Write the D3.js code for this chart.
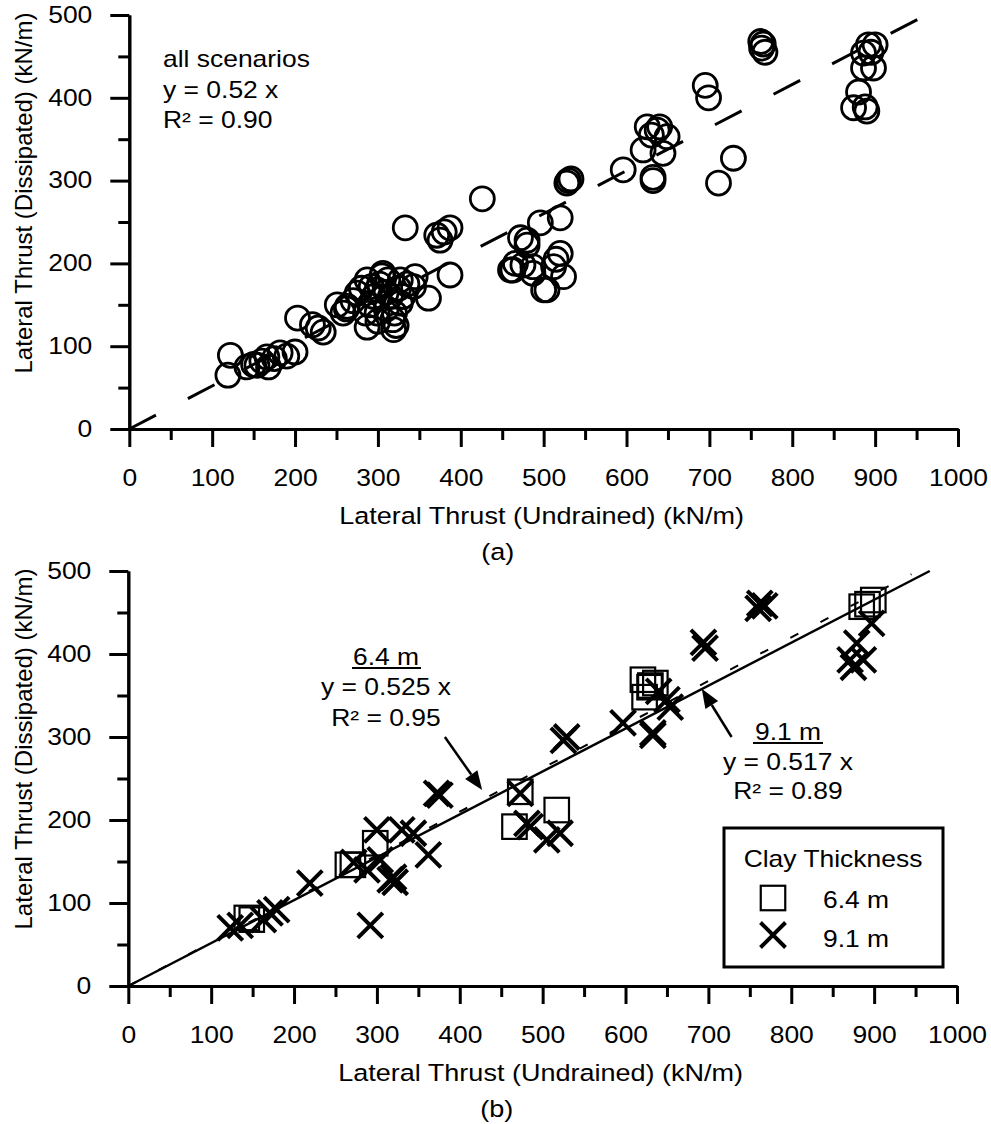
<!DOCTYPE html>
<html><head><meta charset="utf-8">
<script src="https://cdn.jsdelivr.net/npm/d3@7"></script>
<style>body{margin:0;background:#fff} svg{display:block}</style>
</head><body><svg id="c" width="991" height="1124"></svg>
<script>
// ---------- DATA ----------
const allScenarios = [
  [122,89],[119,65],[142,75],[150,78],[154,77],[160,82],[166,87],[168,75],[175,85],[182,92],[200,93],[190,88],
  [203,134],[221,126],[234,117],[228,122],[251,150],[258,140],[262,145],
  [263,148],[275,164],[270,155],[280,170],[287,180],[287,123],[290,150],[295,160],[299,168],[299,140],[302,175],
  [306,188],[310,165],[312,180],[315,160],[318,132],[319,120],[322,125],[325,170],[327,180],[327,152],[330,160],
  [335,175],[343,172],[345,184],[300,130],[310,145],[285,140],[320,140],[305,185],[292,172],
  [361,158],[387,186],[333,243],[371,234],[387,243],[375,228],[380,238],[426,278],
  [472,231],[480,222],[496,249],[463,192],[487,188],[500,168],[466,200],[480,228],[520,255],[504,168],
  [520,212],[524,184],[487,196],[512,196],[460,192],[475,198],[515,205],[528,297],[530,300],[533,302],
  [596,313],[625,365],[637,361],[649,353],[620,337],[644,333],[632,304],[632,300],[640,365],[630,355],
  [695,415],[699,400],[729,327],[711,297],
  [763,460],[765,465],[767,455],[762,468],
  [892,464],[900,464],[886,454],[898,436],[886,436],[880,407],[874,388],[888,389],[890,384],[895,455]
];
const clay64 = [
  [143,82],[149,80],[265,146],[271,146],[298,172],[473,234],[466,192],[517,212],
  [621,369],[629,360],[636,365],[623,348],[630,362],[885,457],[899,465],[892,460]
];
const clay91 = [
  [123,70],[135,73],[163,80],[171,88],[179,92],[219,124],[272,149],[292,73],[288,140],[304,152],
  [316,128],[320,131],[322,125],[300,188],[330,188],[344,184],[362,158],[372,232],[376,230],[473,232],
  [481,196],[485,192],[505,176],[521,184],[525,296],[529,300],[597,317],[650,345],[654,336],[633,305],
  [633,302],[640,355],[694,414],[696,407],[760,455],[762,461],[768,458],[897,437],[879,413],[871,393],
  [887,393],[875,384]
];
const xMajor = [0,100,200,300,400,500,600,700,800,900,1000];
const xMinor = [50,150,250,350,450,550,650,750,850,950];
const yMajor = [0,100,200,300,400,500];
const yMinor = [50,150,250,350,450];
const fitAll = 0.52, fit64 = 0.525, fit91 = 0.517;
const xTitle = "Lateral Thrust (Undrained) (kN/m)";
const yTitle = "Lateral Thrust (Dissipated) (kN/m)";

// ---------- DRAW ----------
const FONT = "'Liberation Sans', Arial, Helvetica, sans-serif";
const SX = 1.15;
const svg = d3.select('#c');
const fmt = d3.format('d');

function txt(g, x, y, s, anchor, size) {
  return g.append('text').attr('transform', `translate(${x},${y}) scale(${SX},1)`)
    .attr('text-anchor', anchor || 'start').attr('font-family', FONT)
    .attr('font-size', size || 23).attr('fill', '#000').text(s);
}

function panel(xr, yr, label) {
  const x = d3.scaleLinear().domain([0,1000]).range(xr);
  const y = d3.scaleLinear().domain([0,500]).range(yr);
  const g = svg.append('g');
  g.append('g').attr('transform', `translate(0,${yr[0]})`)
    .call(d3.axisBottom(x).tickValues(xMinor).tickSize(11).tickSizeOuter(0).tickFormat(''));
  g.append('g').attr('transform', `translate(${xr[0]},0)`)
    .call(d3.axisLeft(y).tickValues(yMinor).tickSize(11).tickSizeOuter(0).tickFormat(''));
  const ax = g.append('g').attr('transform', `translate(0,${yr[0]})`)
    .call(d3.axisBottom(x).tickValues(xMajor).tickFormat(fmt).tickSize(18).tickSizeOuter(0).tickPadding(23));
  const ay = g.append('g').attr('transform', `translate(${xr[0]},0)`)
    .call(d3.axisLeft(y).tickValues(yMajor).tickFormat(fmt).tickSize(19).tickSizeOuter(0).tickPadding(18));
  g.selectAll('.domain, .tick line').attr('stroke', '#000').attr('stroke-width', 3);
  ax.selectAll('text').attr('font-family', FONT).attr('font-size', 23).attr('fill', '#000')
    .attr('transform', `scale(${SX},1)`);
  ay.selectAll('text').each(function(){
    const t = d3.select(this); const xx = +t.attr('x');
    t.attr('x', 0).attr('transform', `translate(${xx},0) scale(${SX},1)`)
     .attr('font-family', FONT).attr('font-size', 23).attr('fill', '#000');
  });
  txt(g, (xr[0]+xr[1])/2 - 2, yr[0] + 95, xTitle, 'middle', 23.5);
  txt(g, (xr[0]+xr[1])/2 - 46, yr[0] + 131, label, 'middle', 23.5);
  g.append('text').attr('transform', `translate(32,${yr[1] + 178}) rotate(-90)`)
    .attr('text-anchor', 'middle').attr('font-family', FONT).attr('font-size', 24)
    .attr('fill', '#000').text(yTitle);
  return {x, y, g};
}

// ----- Panel (a) -----
const A = panel([129.3, 958], [429, 15], '(a)');
A.g.append('line')
  .attr('x1', A.x(0)).attr('y1', A.y(0)).attr('x2', A.x(955)).attr('y2', A.y(fitAll*955))
  .attr('stroke', '#000').attr('stroke-width', 3).attr('stroke-dasharray', '30,36');
A.g.append('g').selectAll('circle').data(allScenarios).join('circle')
  .attr('cx', d => A.x(d[0])).attr('cy', d => A.y(d[1])).attr('r', 12)
  .attr('fill', 'none').attr('stroke', '#000').attr('stroke-width', 2.8);
txt(A.g, 163, 67, 'all scenarios');
txt(A.g, 163, 98, 'y = 0.52 x');
txt(A.g, 163, 128, 'R² = 0.90');

// ----- Panel (b) -----
const B = panel([128.3, 957], [986, 571], '(b)');
B.g.append('line')
  .attr('x1', B.x(0)).attr('y1', B.y(0)).attr('x2', B.x(500/fit91)).attr('y2', B.y(500))
  .attr('stroke', '#000').attr('stroke-width', 2.5);
B.g.append('line')
  .attr('x1', B.x(0)).attr('y1', B.y(0)).attr('x2', B.x(945)).attr('y2', B.y(fit64*945))
  .attr('stroke', '#000').attr('stroke-width', 2).attr('stroke-dasharray', '9,25');
const SQ = 24.5;
B.g.append('g').selectAll('rect').data(clay64).join('rect')
  .attr('x', d => B.x(d[0]) - SQ/2).attr('y', d => B.y(d[1]) - SQ/2)
  .attr('width', SQ).attr('height', SQ)
  .attr('fill', 'none').attr('stroke', '#000').attr('stroke-width', 2.2);
const XS = 12.5;
const xPath = `M${-XS},${-XS}L${XS},${XS}M${-XS},${XS}L${XS},${-XS}`;
B.g.append('g').selectAll('path').data(clay91).join('path')
  .attr('transform', d => `translate(${B.x(d[0])},${B.y(d[1])})`).attr('d', xPath)
  .attr('fill', 'none').attr('stroke', '#000').attr('stroke-width', 4);

function arrow(g, x1, y1, x2, y2) {
  const ang = Math.atan2(y2-y1, x2-x1), L = 19, W = 7.5;
  const bx = x2 - L*Math.cos(ang), by = y2 - L*Math.sin(ang);
  g.append('line').attr('x1', x1).attr('y1', y1).attr('x2', bx).attr('y2', by)
    .attr('stroke', '#000').attr('stroke-width', 2.5);
  const px = -Math.sin(ang)*W, py = Math.cos(ang)*W;
  g.append('path').attr('d', `M${x2},${y2}L${bx+px},${by+py}L${bx-px},${by-py}Z`).attr('fill', '#000');
}
txt(B.g, 386, 665, '6.4 m', 'middle');
B.g.append('line').attr('x1', 352).attr('x2', 421).attr('y1', 668).attr('y2', 668).attr('stroke', '#000').attr('stroke-width', 2);
txt(B.g, 386, 695, 'y = 0.525 x', 'middle');
txt(B.g, 386, 726, 'R² = 0.95', 'middle');
arrow(B.g, B.x(382), B.y(300), B.x(427), B.y(236));

txt(B.g, 788, 740, '9.1 m', 'middle');
B.g.append('line').attr('x1', 753).attr('x2', 823).attr('y1', 743).attr('y2', 743).attr('stroke', '#000').attr('stroke-width', 2);
txt(B.g, 788, 770, 'y = 0.517 x', 'middle');
txt(B.g, 788, 799, 'R² = 0.89', 'middle');
arrow(B.g, B.x(728), B.y(300), B.x(692), B.y(358));

const lg = B.g.append('g');
lg.append('rect').attr('x', 724).attr('y', 828).attr('width', 219).attr('height', 139)
  .attr('fill', '#fff').attr('stroke', '#000').attr('stroke-width', 3);
txt(lg, 833, 867, 'Clay Thickness', 'middle');
lg.append('rect').attr('x', 773 - SQ/2).attr('y', 898 - SQ/2).attr('width', SQ).attr('height', SQ)
  .attr('fill', 'none').attr('stroke', '#000').attr('stroke-width', 2.2);
txt(lg, 823, 908, '6.4 m');
lg.append('path').attr('transform', 'translate(773,935)').attr('d', xPath)
  .attr('fill', 'none').attr('stroke', '#000').attr('stroke-width', 4);
txt(lg, 823, 947, '9.1 m');
</script></body></html>
